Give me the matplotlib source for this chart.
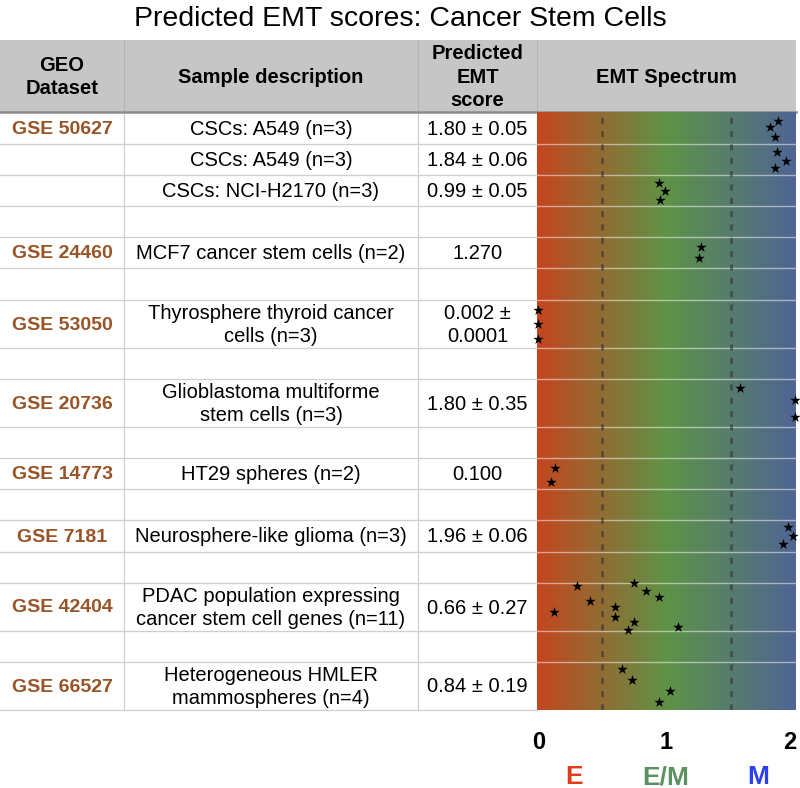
import matplotlib
matplotlib.use("Agg")
import matplotlib.pyplot as plt
import numpy as np
from matplotlib.patches import Rectangle
from matplotlib.colors import LinearSegmentedColormap

plt.rcParams['font.family'] = ['Liberation Sans', 'DejaVu Sans']


# Table contents (one entry per table row, blank rows are spacers)

geo_ids = ["GSE 50627", "", "", "", "GSE 24460", "", "GSE 53050", "",
           "GSE 20736", "", "GSE 14773", "", "GSE 7181", "",
           "GSE 42404", "", "GSE 66527"]

descriptions = ["CSCs: A549 (n=3)",
                "CSCs: A549 (n=3)",
                "CSCs: NCI-H2170 (n=3)",
                "",
                "MCF7 cancer stem cells (n=2)",
                "",
                "Thyrosphere thyroid cancer\ncells (n=3)",
                "",
                "Glioblastoma multiforme\nstem cells (n=3)",
                "",
                "HT29 spheres (n=2)",
                "",
                "Neurosphere-like glioma (n=3)",
                "",
                "PDAC population expressing\ncancer stem cell genes (n=11)",
                "",
                "Heterogeneous HMLER\nmammospheres (n=4)"]

score_labels = ["1.80 \u00b1 0.05", "1.84 \u00b1 0.06", "0.99 \u00b1 0.05", "",
                "1.270", "", "0.002 \u00b1\n0.0001", "",
                "1.80 \u00b1 0.35", "", "0.100", "",
                "1.96 \u00b1 0.06", "", "0.66 \u00b1 0.27", "",
                "0.84 \u00b1 0.19"]

# Sample scores (x) and their vertical place in the table (y, px from top)

star_scores = [1.86, 1.80, 1.84,
               1.85, 1.92, 1.84,
               0.94, 0.99, 0.95,
               1.27, 1.25,
               0.01, 0.01, 0.01,
               1.57, 1.99, 1.99,
               0.14, 0.11,
               1.94, 1.98, 1.90,
               0.31, 0.75, 0.84, 0.94, 0.41, 0.13, 0.60, 0.60, 0.75, 0.70, 1.09,
               0.66, 0.73, 1.03, 0.94]

star_y = [121, 127, 137,
          152, 161, 168,
          183, 191, 200,
          247, 258,
          310, 324, 339,
          388, 400, 417,
          468, 482,
          527, 536, 544,
          586, 583, 591, 597, 601, 612, 607, 617, 622, 630, 627,
          669, 680, 691, 702]


# Layout (pixels)

W, H = 800, 788
row_edges = [112, 144, 175, 206, 237, 268, 300, 348, 379, 427, 458,
             489, 520, 552, 583, 631, 662, 710]
col_edges = [0, 124, 418, 537, 796]
header_top = 40

fig = plt.figure(figsize=(W / 100, H / 100), dpi=100)
ax = fig.add_axes([0, 0, 1, 1])
ax.set_xlim(0, W)
ax.set_ylim(H, 0)
ax.axis('off')

ax.text(400, 19, "Predicted EMT scores: Cancer Stem Cells",
        ha='center', va='center', fontsize=20.5)

# Header

ax.add_patch(Rectangle((0, header_top), col_edges[-1], row_edges[0] - header_top,
                       facecolor='#c6c6c6', edgecolor='none'))
for x in col_edges[1:-1]:
    ax.plot([x, x], [header_top, row_edges[0]], color='#b4b4b4', lw=0.8)

hy = (header_top + row_edges[0]) / 2 + 1
headers = ["GEO\nDataset", "Sample description", "Predicted\nEMT\nscore", "EMT Spectrum"]
for i, h in enumerate(headers):
    cx = (col_edges[i] + col_edges[i + 1]) / 2
    ax.text(cx, hy, h, ha='center', va='center', fontsize=14.5,
            fontweight='bold', linespacing=1.28)

# Body grid

for y in row_edges[1:]:
    ax.plot([0, col_edges[3]], [y, y], color='#cfcfcf', lw=0.9)
for x in col_edges[1:3]:
    ax.plot([x, x], [row_edges[0], row_edges[-1]], color='#cfcfcf', lw=0.9)

for i in range(len(geo_ids)):
    cy = (row_edges[i] + row_edges[i + 1]) / 2 + 1
    ax.text((col_edges[0] + col_edges[1]) / 2, cy, geo_ids[i], ha='center',
            va='center', fontsize=14, fontweight='bold', color='#985427')
    ax.text((col_edges[1] + col_edges[2]) / 2, cy, descriptions[i], ha='center',
            va='center', fontsize=14.5, linespacing=1.3)
    ax.text((col_edges[2] + col_edges[3]) / 2, cy, score_labels[i], ha='center',
            va='center', fontsize=14.5, linespacing=1.3)

# Spectrum column

sp = fig.add_axes([col_edges[3] / W, (H - row_edges[-1]) / H,
                   (col_edges[4] - col_edges[3]) / W,
                   (row_edges[-1] - row_edges[0]) / H])
sp.set_xlim(0, 2)
sp.set_ylim(row_edges[-1], row_edges[0])
sp.axis('off')

cmap = LinearSegmentedColormap.from_list(
    "emt", [(0.0, '#c4461f'), (0.5, '#5e9347'), (1.0, '#4f6594')])
grad = np.linspace(0, 1, 256)[None, :]
sp.imshow(grad, cmap=cmap, extent=[0, 2, row_edges[-1], row_edges[0]],
          aspect='auto', interpolation='bilinear')

for y in row_edges[1:-1]:
    sp.axhline(y, color='white', lw=1, alpha=0.5)
for x in [0.5, 1.5]:
    sp.axvline(x, color='#333333', lw=2, alpha=0.6, dashes=(2.2, 2.6))

sp.scatter(star_scores, star_y, marker='*', s=62, color='black',
           zorder=5, clip_on=False, linewidths=0)

# thick line under header
ax.plot([0, col_edges[-1]], [row_edges[0], row_edges[0]], color='#8c8c8c', lw=1.8)

# Axis labels

sp.text(0.01, 742, "0", ha='center', va='center', fontsize=17, fontweight='bold')
sp.text(1.0, 742, "1", ha='center', va='center', fontsize=17, fontweight='bold')
sp.text(2.0, 742, "2", ha='right', va='center', fontsize=17, fontweight='bold')

sp.text(0.29, 777, "E", ha='center', va='center', fontsize=19,
        fontweight='bold', color='#e03c19')
sp.text(0.99, 777, "E/M", ha='center', va='center', fontsize=19,
        fontweight='bold', color='#5c9160')
sp.text(1.71, 777, "M", ha='center', va='center', fontsize=19,
        fontweight='bold', color='#2c41ee')

fig.savefig("out.png", dpi=100)
